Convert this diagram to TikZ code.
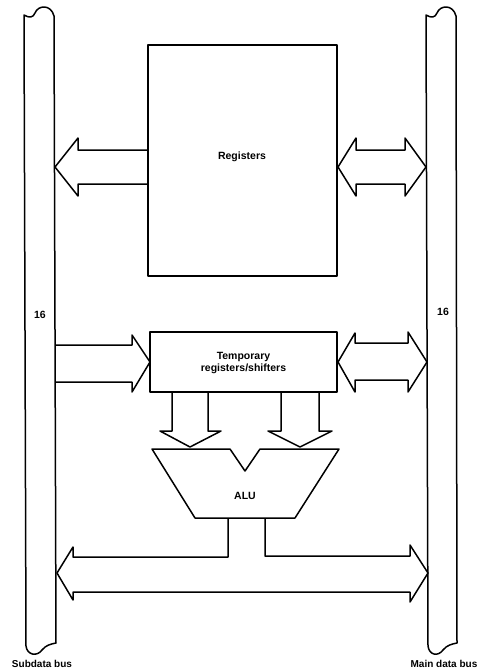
\documentclass[tikz,border=0pt]{standalone}
\usepackage{fontspec}
\setmainfont{Liberation Sans}
\begin{document}
\begin{tikzpicture}[x=1pt,y=-1pt,
  ln/.style={line width=1.5pt, line join=round},
  lbl/.style={font=\fontsize{10.5}{12}\selectfont\bfseries, inner sep=0pt, align=center},
  buslbl/.style={font=\fontsize{10}{12}\selectfont\bfseries, inner sep=0pt},
  boxnode/.style={ln, draw, rectangle, inner sep=0pt}]
\useasboundingbox (0,0) rectangle (481,670);
% buses
\draw[ln] (24,15) .. controls (29,18) and (33,18) .. (35,13) .. controls (38,5) and (51,4) .. (54,16)
  -- (56,643) .. controls (51,644) and (46,645) .. (42,650) .. controls (37,657) and (27,655) .. (26,646) -- cycle;
\draw[ln] (426,15) .. controls (431,18) and (435,18) .. (437,13) .. controls (440,5) and (453,4) .. (456,16)
  -- (457,643) .. controls (452,644) and (447,645) .. (443,650) .. controls (438,657) and (429,655) .. (428,646) -- cycle;
\node[lbl] (n16a) at (40,315) {16};
\node[lbl] (n16b) at (443,312) {16};
\node[buslbl] (sub) at (42,664) {Subdata bus};
\node[buslbl] (main) at (444,664) {Main data bus};
% boxes
\node[boxnode, minimum width=189pt, minimum height=231pt] (reg) at (242.5,160.5) {};
\node[lbl] (regt) at (242,157) {Registers};
\node[boxnode, minimum width=187pt, minimum height=60pt] (tmp) at (243.5,362) {};
\node[lbl] (tmpt) at (243.5,363) {Temporary\\registers/shifters};
% register arrows
\draw[ln] (148,150) -- (78,150) -- (78,138) -- (55,167) -- (78,196) -- (78,184) -- (148,184);
\draw[ln] (338,167) -- (356,138) -- (356,150) -- (405,150) -- (405,138) -- (426,167) -- (405,196) -- (405,184) -- (356,184) -- (356,196) -- cycle;
% temp arrows
\draw[ln] (55,345) -- (132,345) -- (132,335) -- (150,362) -- (132,392) -- (132,382) -- (55,382);
\draw[ln] (338,362) -- (355,333) -- (355,343) -- (408,343) -- (408,332) -- (427,362) -- (408,392) -- (408,380) -- (355,380) -- (355,392) -- cycle;
% down arrows
\draw[ln] (172,392) -- (172,431) -- (160,431) -- (190,447) -- (221,431) -- (208,431) -- (208,392);
\draw[ln] (281,392) -- (281,431) -- (268,431) -- (300,447) -- (332,431) -- (319,431) -- (319,392);
% ALU
\draw[ln] (152,449) -- (230,449) -- (245,471) -- (260,449) -- (339,449) -- (295,518) -- (195,518) -- cycle;
\node[lbl] (alu) at (245,496) {ALU};
% output arrow
\draw[ln] (228,518) -- (228,557) -- (73,557) -- (73,547) -- (57,573) -- (73,600) -- (73,592) -- (410,592) -- (410,602) -- (428,573) -- (410,545) -- (410,556) -- (265,556) -- (265,518);
\end{tikzpicture}
\end{document}
